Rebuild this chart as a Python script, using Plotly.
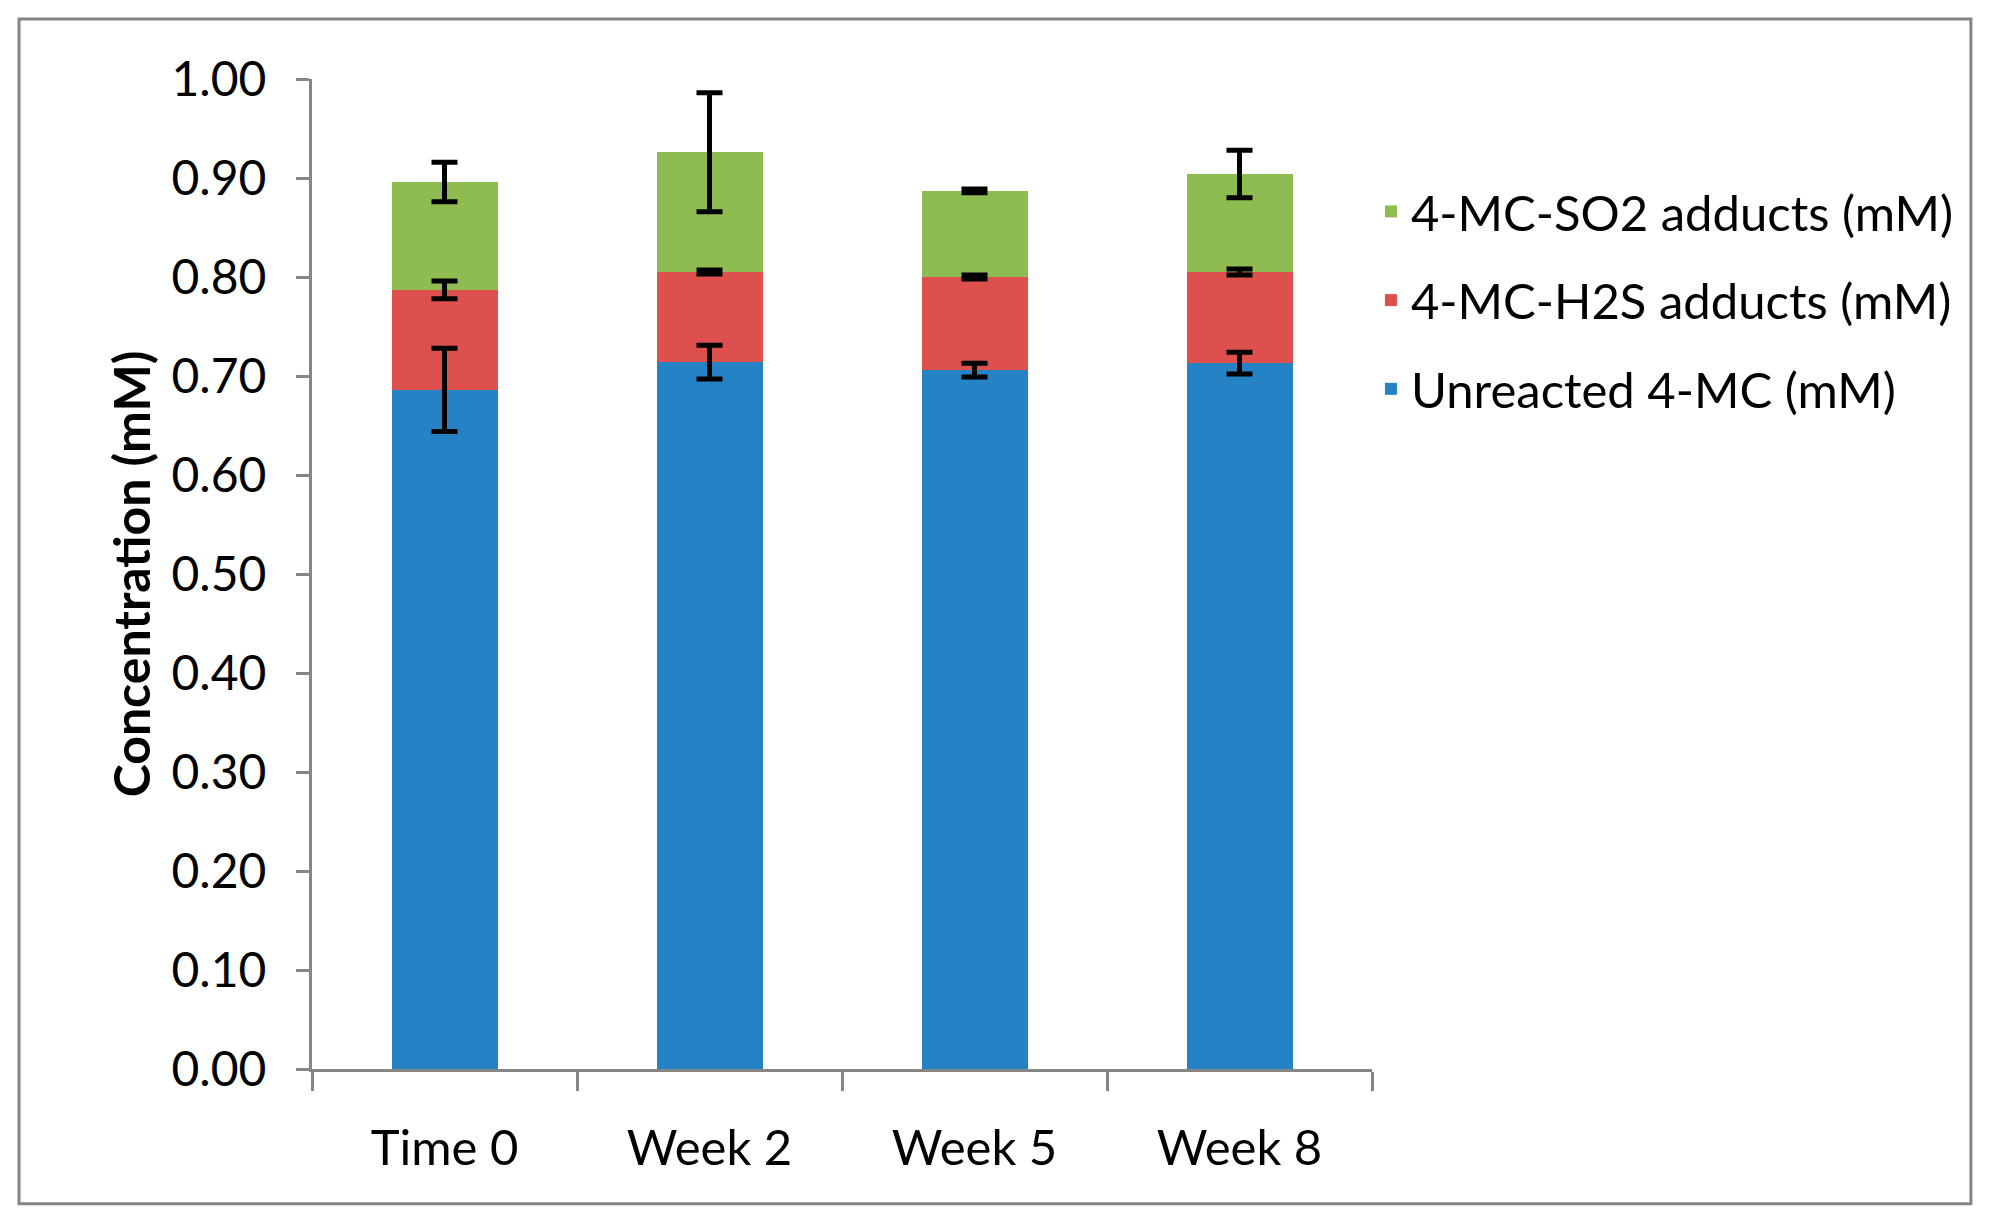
import numpy as np
import plotly.graph_objects as go

categories = ["Time 0", "Week 2", "Week 5", "Week 8"]
unreacted = [0.686, 0.714, 0.706, 0.713]
unreacted_err = [0.042, 0.017, 0.007, 0.011]
h2s = [0.101, 0.091, 0.094, 0.092]
h2s_err = [0.009, 0.002, 0.002, 0.003]
so2 = [0.109, 0.121, 0.087, 0.099]
so2_err = [0.020, 0.060, 0.002, 0.024]

names = ["Unreacted 4-MC (mM)", "4-MC-H2S adducts (mM)", "4-MC-SO2 adducts (mM)"]
colors = ["#2582C4", "#DE504D", "#8FBC51"]
series = [unreacted, h2s, so2]
errors = [unreacted_err, h2s_err, so2_err]

FONT = "Lato"
fig = go.Figure()
for i, (nm, vals, col) in enumerate(zip(names, series, colors)):
    fig.add_trace(go.Bar(
        x=categories, y=vals, name=nm, marker=dict(color=col, line=dict(width=0)),
        legendgroup=f"g{i}", legendrank=10 - i,
    ))

# error bars drawn on top of the stacked segments
tops = np.cumsum(np.array(series), axis=0)
for i, err in enumerate(errors):
    fig.add_trace(go.Scatter(
        x=categories, y=tops[i], mode="markers", marker=dict(opacity=0, size=1),
        showlegend=False, hoverinfo="skip", legendgroup=f"g{i}",
        legendrank=10 - i,
        error_y=dict(type="data", array=err, visible=True, color="black",
                     thickness=5, width=13),
    ))

fig.update_layout(
    width=1991, height=1220,
    barmode="stack", bargap=0.6,
    paper_bgcolor="white", plot_bgcolor="white",
    margin=dict(l=304, r=627, t=71, b=159),
    font=dict(family=FONT, size=49, color="black"),
    showlegend=True,
    legend=dict(x=0.999, y=0.905, xanchor="left", yanchor="top",
                traceorder="grouped", tracegroupgap=22,
                font=dict(family=FONT, size=49, color="black"),
                bgcolor="rgba(0,0,0,0)"),
    xaxis=dict(showline=True, linecolor="#868686", linewidth=3,
               ticks="outside", tickson="boundaries", ticklen=19,
               tickcolor="#868686", tickwidth=3, ticklabelstandoff=34,
               tickfont=dict(family=FONT, size=49)),
    yaxis=dict(range=[0, 1.0], dtick=0.1, tickformat=".2f",
               showline=True, linecolor="#868686", linewidth=3,
               ticks="outside", ticklen=13, tickcolor="#868686", tickwidth=3,
               showgrid=False, zeroline=False, ticklabelstandoff=20,
               tickfont=dict(family=FONT, size=48),
               title=dict(text="<b>Concentration (mM)</b>", standoff=6,
                          font=dict(family=FONT, size=50))),
)

fig.add_shape(type="rect", xref="paper", yref="paper",
              x0=-0.2764, x1=1.565, y0=-0.136, y1=1.0606,
              line=dict(color="#868686", width=3), fillcolor="rgba(0,0,0,0)",
              layer="below")

fig.write_html("out.html")
